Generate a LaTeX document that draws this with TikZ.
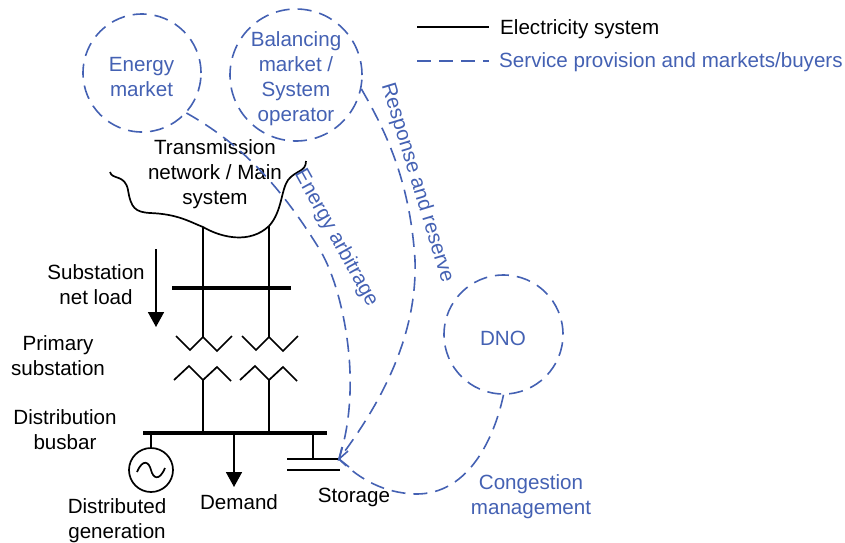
\documentclass[tikz,border=0pt]{standalone}
\usepackage{fontspec}
\setmainfont{Liberation Sans}
\usetikzlibrary{arrows.meta}
\definecolor{svc}{HTML}{4461B3}
\tikzset{
  x=1pt,y=-1pt,
  txt/.style={font=\fontsize{20.6}{25}\selectfont,align=center,inner sep=0pt,text=black},
  btxt/.style={txt,text=svc},
  wire/.style={draw=black,line width=1.7pt,line join=miter},
  bar/.style={draw=black,line width=3.2pt},
  svcline/.style={draw=svc,line width=1.6pt,dash pattern=on 14pt off 8pt},
  svcend/.style={draw=svc,line width=1.6pt},
  market/.style={circle,svcline,inner sep=0pt},
  flow/.style={-{Triangle[length=15pt,width=16pt]},wire},
}
\begin{document}
\begin{tikzpicture}
\useasboundingbox (0,0) rectangle (845,542);
% markets
\node[market,minimum size=118pt] (em) at (142,73) {};
\node[btxt] (emt) at (141.5,77) {Energy\\market};
\node[market,minimum size=132pt] (bm) at (296,75) {};
\node[btxt] (bmt) at (296,79) {Balancing\\market /\\System\\operator};
\node[market,minimum size=119pt] (dno) at (503.5,334.5) {};
\node[btxt] (dnot) at (503,338) {DNO};
% network
\node[txt] (tn) at (215,174.5) {Transmission\\network / Main\\system};
\coordinate (c1) at (203,227);
\coordinate (c2) at (269,226);
\draw[wire] (110,172) .. controls (112,180) and (125,174) .. (128,190) .. controls (131,208) and (135,212) .. (150,213) .. controls (178,214) and (190,222) .. (203,227) .. controls (222,238) and (250,244) .. (269,226) .. controls (282,212) and (281,190) .. (288,180) .. controls (296,170) and (306,172) .. (306,161);
% bus and transformers
\coordinate (b1) at (172,288);
\coordinate (b2) at (291,288);
\draw[bar] (b1) -- (b2);
\coordinate (t1) at (203,337);
\coordinate (t2) at (269,337);
\draw[wire] (c1) -- (t1);
\draw[wire] (c2) -- (t2);
\draw[wire] (176,336) -- (190,350) -- (t1) -- (217,351) -- (232,336);
\draw[wire] (242,336) -- (256,350) -- (t2) -- (283,351) -- (298,336);
\coordinate (u1) at (203,380);
\coordinate (u2) at (269,380);
\draw[wire] (174,380) -- (189,366) -- (u1) -- (217,367) -- (231,381);
\draw[wire] (240,380) -- (255,366) -- (u2) -- (283,367) -- (297,381);
\coordinate (d1) at (203,433);
\coordinate (d2) at (269,433);
\draw[wire] (u1) -- (d1);
\draw[wire] (u2) -- (d2);
\coordinate (l1) at (143,433);
\coordinate (l2) at (327,433);
\draw[bar] (l1) -- (l2);
% generator
\node[circle,wire,minimum size=44pt,inner sep=0pt] (gen) at (151,470) {};
\coordinate (g0) at (151,433);
\draw[wire] (g0) -- (gen);
\draw[wire] (137,472) .. controls (143,458) and (149,462) .. (151,470) .. controls (153,478) and (159,482) .. (165,468);
% demand
\coordinate (dm0) at (234,433);
\coordinate (dm1) at (234,487);
\draw[flow] (dm0) -- (dm1);
% storage
\coordinate (s0) at (313,433);
\coordinate (s1) at (313,459);
\coordinate (sa) at (287,459);
\coordinate (sb) at (339,459);
\coordinate (sc) at (287,470);
\coordinate (sd) at (340,470);
\draw[wire] (s0) -- (s1);
\draw[wire] (sa) -- (sb);
\draw[wire] (sc) -- (sd);
% substation arrow
\coordinate (na) at (156,249);
\coordinate (nb) at (156,327);
\draw[flow] (na) -- (nb);
% services
\coordinate (e1) at (342,447);
\coordinate (e2) at (348,451);
\coordinate (e3) at (349,467);
\draw[svcline] (em.-42) .. controls (240,143) and (280,185) .. (320,250) .. controls (338,280) and (352,340) .. (350,393) .. controls (349,420) and (345,440) .. (sb);
\draw[svcline] (bm.-12) .. controls (385,130) and (410,180) .. (415,260) .. controls (417,320) and (395,385) .. (sb);
\draw[svcline] (dno.270) .. controls (495,435) and (470,495) .. (415,494) .. controls (385,493) and (360,480) .. (sb);
\draw[svcend] (e1) -- (sb) -- (e2);
\draw[svcend] (sb) -- (e3);
% labels
\node[txt] (l3) at (96,285) {Substation\\net load};
\node[txt] (l4) at (58,356) {Primary\\substation};
\node[txt] (l5) at (65,430) {Distribution\\busbar};
\node[txt] (l6) at (117,521) {Distributed\\generation};
\node[txt] (l7) at (239,502) {Demand};
\node[txt] (l8) at (354,497) {Storage};
\node[btxt] (l9) at (531,496.5) {Congestion\\management};
\node[btxt,rotate=-61] (l10) at (336,238) {Energy arbitrage};
\node[btxt,rotate=-73] (l11) at (417,183) {Response and reserve};
% legend
\coordinate (k1) at (417,27);
\coordinate (k2) at (489,27);
\coordinate (k3) at (417,61);
\coordinate (k4) at (489,61);
\draw[wire] (k1) -- (k2);
\draw[svcline] (k3) -- (k4);
\node[txt,anchor=west] (k5) at (500,29) {Electricity system};
\node[btxt,anchor=west] (k6) at (499,62) {Service provision and markets/buyers};
\end{tikzpicture}
\end{document}
